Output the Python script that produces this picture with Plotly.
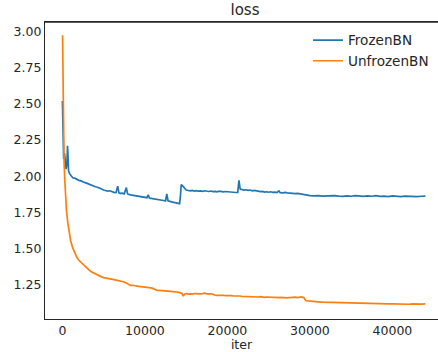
import plotly.graph_objects as go

frozen_iter = [0, 60, 150, 250, 360, 450, 550, 620, 680, 740, 850, 1000, 1250, 1500, 1750, 2000, 2250, 2500, 2750,
               3000, 3250, 3500, 3750, 4000, 4250, 4500, 4750, 5000, 5250, 5500, 5750, 6000, 6250, 6500, 6700, 6850,
               7000, 7250, 7500, 7750, 7900, 8250, 8500, 8750, 9000, 9250, 9500, 9750, 10000, 10250, 10400, 10550,
               10750, 11000, 11250, 11500, 11750, 12000, 12250, 12500, 12650, 12800, 13000, 13250, 13500, 13750,
               14000, 14200, 14300, 14400, 14550, 14750, 15000, 15250, 15500, 15750, 16000, 16250, 16500, 16750,
               17000, 17250, 17500, 17750, 18000, 18250, 18500, 18750, 19000, 19250, 19500, 19750, 20000, 20250,
               20500, 20750, 21000, 21250, 21400, 21550, 21750, 22000, 22250, 22500, 22750, 23000, 23250, 23500,
               23750, 24000, 24250, 24500, 24750, 25000, 25250, 25500, 25750, 26000, 26250, 26400, 26750, 27000,
               27250, 27500, 27750, 28000, 28250, 28500, 28750, 29000, 29250, 29500, 29750, 30000, 30500, 31000,
               31500, 32000, 32500, 33000, 33500, 34000, 34500, 35000, 35500, 36000, 36500, 37000, 37500, 38000,
               38500, 39000, 39500, 40000, 40500, 41000, 41500, 42000, 42500, 43000, 43500, 44000]
frozen_loss = [2.52, 2.34, 2.12, 2.16, 2.11, 2.05, 2.09, 2.21, 2.14, 2.04, 2.02, 2.005, 1.99, 1.987, 1.978, 1.972,
               1.968, 1.96, 1.956, 1.951, 1.944, 1.938, 1.934, 1.928, 1.924, 1.915, 1.912, 1.905, 1.902, 1.897, 1.90,
               1.893, 1.889, 1.887, 1.932, 1.885, 1.882, 1.884, 1.879, 1.922, 1.878, 1.872, 1.87, 1.866, 1.864, 1.862,
               1.859, 1.861, 1.855, 1.852, 1.872, 1.85, 1.848, 1.846, 1.843, 1.84, 1.842, 1.836, 1.833, 1.83, 1.878,
               1.831, 1.826, 1.823, 1.82, 1.817, 1.814, 1.811, 1.86, 1.942, 1.935, 1.918, 1.905, 1.902, 1.899, 1.903,
               1.898, 1.901, 1.897, 1.899, 1.896, 1.9, 1.897, 1.895, 1.898, 1.894, 1.896, 1.893, 1.897, 1.894, 1.892,
               1.895, 1.893, 1.891, 1.894, 1.89, 1.888, 1.889, 1.972, 1.912, 1.908, 1.905, 1.907, 1.903, 1.905, 1.9,
               1.902, 1.898, 1.896, 1.894, 1.896, 1.891, 1.893, 1.89, 1.893, 1.889, 1.891, 1.888, 1.899, 1.887, 1.886,
               1.889, 1.885, 1.883, 1.885, 1.882, 1.88, 1.882, 1.879, 1.879, 1.876, 1.872, 1.868, 1.866, 1.865, 1.867,
               1.863, 1.865, 1.862, 1.866, 1.863, 1.861, 1.865, 1.862, 1.866, 1.863, 1.861, 1.864, 1.862, 1.866,
               1.861, 1.863, 1.86, 1.864, 1.861, 1.859, 1.863, 1.861, 1.864, 1.86, 1.862, 1.863]

unfrozen_iter = [20, 60, 100, 150, 200, 300, 400, 500, 650, 800, 1000, 1250, 1500, 1750, 2000, 2250, 2500, 2750,
                 3000, 3250, 3500, 3750, 4000, 4250, 4500, 4750, 5000, 5250, 5500, 5750, 6000, 6250, 6500, 6750,
                 7000, 7250, 7500, 7750, 8000, 8250, 8500, 8750, 9000, 9250, 9500, 9750, 10000, 10250, 10500, 10750,
                 11000, 11250, 11500, 11750, 12000, 12250, 12500, 12750, 13000, 13250, 13500, 13750, 14000, 14250,
                 14500, 14650, 14800, 15000, 15250, 15500, 15750, 16000, 16250, 16500, 16750, 17000, 17250, 17500,
                 17750, 18000, 18250, 18500, 18750, 19000, 19250, 19500, 19750, 20000, 20250, 20500, 20750, 21000,
                 21250, 21500, 21750, 22000, 22250, 22500, 22750, 23000, 23250, 23500, 23750, 24000, 24250, 24500,
                 24750, 25000, 25250, 25500, 25750, 26000, 26250, 26500, 26750, 27000, 27250, 27500, 27750, 28000,
                 28250, 28500, 28750, 29000, 29250, 29500, 29750, 30000, 30500, 31000, 31500, 32000, 32500, 33000,
                 33500, 34000, 34500, 35000, 35500, 36000, 36500, 37000, 37500, 38000, 38500, 39000, 39500, 40000,
                 40500, 41000, 41500, 42000, 42500, 43000, 43500, 44000]
unfrozen_loss = [2.975, 2.70, 2.42, 2.22, 2.10, 1.96, 1.85, 1.76, 1.68, 1.615, 1.555, 1.505, 1.47, 1.44, 1.42,
                 1.405, 1.39, 1.378, 1.365, 1.352, 1.34, 1.333, 1.322, 1.316, 1.31, 1.305, 1.30, 1.298, 1.294, 1.291,
                 1.288, 1.286, 1.283, 1.28, 1.277, 1.274, 1.27, 1.262, 1.252, 1.246, 1.247, 1.243, 1.242, 1.24,
                 1.238, 1.237, 1.235, 1.233, 1.232, 1.229, 1.224, 1.215, 1.211, 1.212, 1.21, 1.209, 1.207, 1.206,
                 1.205, 1.204, 1.203, 1.201, 1.2, 1.197, 1.19, 1.172, 1.186, 1.19, 1.186, 1.188, 1.186, 1.19, 1.188,
                 1.191, 1.187, 1.189, 1.192, 1.188, 1.19, 1.187, 1.185, 1.178, 1.177, 1.179, 1.176, 1.178, 1.175,
                 1.177, 1.175, 1.176, 1.173, 1.174, 1.172, 1.173, 1.171, 1.17, 1.172, 1.168, 1.17, 1.171, 1.167,
                 1.168, 1.166, 1.169, 1.166, 1.164, 1.166, 1.165, 1.163, 1.164, 1.161, 1.163, 1.162, 1.164, 1.161,
                 1.162, 1.16, 1.162, 1.164, 1.163, 1.165, 1.162, 1.165, 1.167, 1.162, 1.142, 1.139, 1.137, 1.135,
                 1.133, 1.131, 1.13, 1.128, 1.129, 1.126, 1.127, 1.124, 1.125, 1.123, 1.124, 1.121, 1.122, 1.12,
                 1.121, 1.119, 1.12, 1.118, 1.119, 1.117, 1.115, 1.118, 1.116, 1.118, 1.116, 1.117, 1.118]

x_ticks = [0, 10000, 20000, 30000, 40000]
y_ticks = [1.25, 1.50, 1.75, 2.00, 2.25, 2.50, 2.75, 3.00]

TXT = "#262626"
FONT = "DejaVu Sans"

fig = go.Figure()
fig.add_trace(go.Scatter(x=frozen_iter, y=frozen_loss, mode="lines", name="FrozenBN",
                         line=dict(color="#1f77b4", width=1.7)))
fig.add_trace(go.Scatter(x=unfrozen_iter, y=unfrozen_loss, mode="lines", name="UnfrozenBN",
                         line=dict(color="#ff7f0e", width=1.7)))

fig.update_layout(
    width=438, height=352,
    margin=dict(l=45, r=0, t=22, b=33, autoexpand=False),
    plot_bgcolor="white", paper_bgcolor="white",
    font=dict(family=FONT, size=12.5, color=TXT),
    title=dict(text="loss", x=245 / 438, xref="container", xanchor="center",
               y=1 - 10 / 352, yref="container", yanchor="middle",
               font=dict(family=FONT, size=15, color=TXT)),
    showlegend=True,
    legend=dict(x=(308 - 45) / 393, y=(318.7 - 25) / 296.4, xanchor="left", yanchor="top",
                bgcolor="rgba(0,0,0,0)", borderwidth=0,
                font=dict(family=FONT, size=13.6, color=TXT), tracegroupgap=0),
    xaxis=dict(range=[-2110, 45526], tickvals=x_ticks, tickformat="d",
               showgrid=False, zeroline=False, showline=True, linecolor=TXT,
               linewidth=1.3, mirror=True, ticks="",
               title=dict(text="iter", standoff=2, font=dict(family=FONT, size=12.5, color=TXT))),
    yaxis=dict(range=[1.014, 3.066], tickvals=y_ticks, tickformat=".2f",
               showgrid=False, zeroline=False, showline=True, linecolor=TXT,
               linewidth=1.3, mirror=False, ticks=""),
    shapes=[dict(type="line", xref="paper", yref="paper", x0=0, x1=1, y0=1, y1=1,
                 line=dict(color=TXT, width=1.3), layer="above")],
)

fig.write_html("out.html", config={"displayModeBar": False},
               post_script="document.body.style.margin='0';document.body.style.overflow='hidden';")
